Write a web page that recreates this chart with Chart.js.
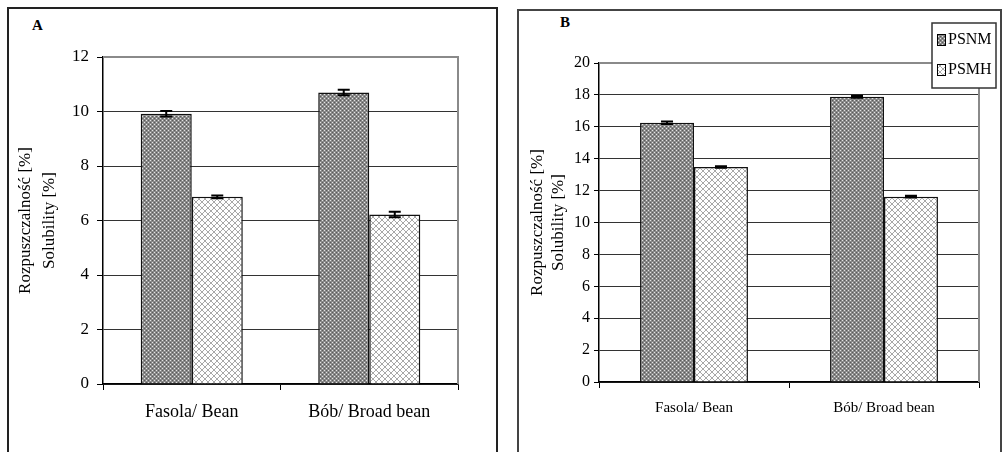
<!DOCTYPE html>
<html>
<head>
<meta charset="utf-8">
<script src="https://cdn.jsdelivr.net/npm/chart.js@4.4.0/dist/chart.umd.min.js"></script>
<style>
body { margin: 0; background: #fff; width: 1007px; height: 452px; overflow: hidden; position: relative; font-family: "Liberation Serif", serif; }
.panel { position: absolute; border: 2px solid #222; box-sizing: border-box; }
.tag { position: absolute; font-weight: bold; font-size: 15px; color: #000; }
canvas { position: absolute; }
</style>
</head>
<body>
<div class="panel" style="left:7px; top:7px; width:491px; height:470px;"></div>
<div class="panel" style="left:517px; top:9px; width:485px; height:470px; border-color:#444;"></div>
<span class="tag" style="left:32px; top:17px;">A</span>
<span class="tag" style="left:560px; top:14px;">B</span>
<canvas id="chartA" width="485" height="442" style="left:10px; top:10px;"></canvas>
<canvas id="chartB" width="479" height="440" style="left:520px; top:12px;"></canvas>

<script>
// Dane: rozpuszczalność [%]
const categories = ['Fasola/ Bean', 'Bób/ Broad bean'];
const seriesNames = ['PSNM', 'PSMH'];
const yTitle = ['Rozpuszczalność [%]', 'Solubility [%]'];

// Panel A
const psnmA = [9.92, 10.7];
const psmhA = [6.87, 6.22];
const psnmErrA = [0.1, 0.1];
const psmhErrA = [0.05, 0.1];
const yTicksA = { min: 0, max: 12, step: 2 };

// Panel B
const psnmB = [16.25, 17.88];
const psmhB = [13.48, 11.62];
const psnmErrB = [0.08, 0.06];
const psmhErrB = [0.05, 0.06];
const yTicksB = { min: 0, max: 20, step: 2 };

const serif = '"Liberation Serif", "Times New Roman", serif';
Chart.defaults.font.family = serif;

// wzory wypełnienia słupków
function makePattern(kind) {
    const c = document.createElement('canvas');
    const g = c.getContext('2d');
    if (kind === 'dark') {
        c.width = 4; c.height = 4;
        g.fillStyle = '#8a8a8a'; g.fillRect(0, 0, 4, 4);
        g.fillStyle = '#5a5a5a'; g.fillRect(0, 0, 1, 1); g.fillRect(2, 2, 1, 1);
        g.fillStyle = '#e4e4e4'; g.fillRect(2, 0, 1, 1); g.fillRect(0, 2, 1, 1);
    } else {
        c.width = 6; c.height = 6;
        g.fillStyle = '#ffffff'; g.fillRect(0, 0, 6, 6);
        g.fillStyle = '#a8a8a8';
        for (let i = 0; i < 6; i++) {
            g.fillRect(i, i, 1, 1);
            g.fillRect(5 - i, i, 1, 1);
        }
    }
    return g.createPattern(c, 'repeat');
}
const darkFill = makePattern('dark');
const lightFill = makePattern('light');

// słupki błędów
const errorBars = {
    id: 'errorBars',
    afterDatasetsDraw(chart) {
        const ctx = chart.ctx;
        const y = chart.scales.y;
        chart.data.datasets.forEach((ds, i) => {
            const meta = chart.getDatasetMeta(i);
            meta.data.forEach((bar, j) => {
                const top = y.getPixelForValue(ds.data[j] + ds.errors[j]);
                const bot = y.getPixelForValue(ds.data[j] - ds.errors[j]);
                ctx.save();
                ctx.strokeStyle = '#000';
                ctx.lineWidth = 2;
                ctx.beginPath();
                ctx.moveTo(bar.x, top); ctx.lineTo(bar.x, bot);
                ctx.moveTo(bar.x - 6, top); ctx.lineTo(bar.x + 6, top);
                ctx.moveTo(bar.x - 6, bot); ctx.lineTo(bar.x + 6, bot);
                ctx.stroke();
                ctx.restore();
            });
        });
    }
};

// szara ramka obszaru wykresu (góra i prawa strona)
const plotFrame = {
    id: 'plotFrame',
    beforeDatasetsDraw(chart) {
        const { left, right, top, bottom } = chart.chartArea;
        const ctx = chart.ctx;
        ctx.save();
        ctx.strokeStyle = '#8a8a8a';
        ctx.lineWidth = 2;
        ctx.beginPath();
        ctx.moveTo(left, top); ctx.lineTo(right, top); ctx.lineTo(right, bottom);
        ctx.stroke();
        ctx.restore();
    }
};

// legenda w ramce (tylko panel B)
const boxLegend = {
    id: 'boxLegend',
    afterDraw(chart, args, opts) {
        if (!opts.show) return;
        const ctx = chart.ctx;
        ctx.save();
        ctx.fillStyle = '#fff';
        ctx.fillRect(opts.x, opts.y, opts.w, opts.h);
        ctx.strokeStyle = '#333';
        ctx.lineWidth = 1.5;
        ctx.strokeRect(opts.x, opts.y, opts.w, opts.h);
        chart.data.datasets.forEach((ds, i) => {
            const sy = opts.y + 11 + i * 30;
            ctx.fillStyle = ds.backgroundColor;
            ctx.fillRect(opts.x + 5, sy, 9, 12);
            ctx.strokeStyle = '#000';
            ctx.lineWidth = 1;
            ctx.strokeRect(opts.x + 5.5, sy + 0.5, 8, 11);
            ctx.fillStyle = '#000';
            ctx.font = '16px ' + serif;
            ctx.textBaseline = 'middle';
            ctx.fillText(ds.label, opts.x + 16, sy + 6);
        });
        ctx.restore();
    }
};

function buildChart(id, psnm, psmh, psnmErr, psmhErr, yr, cfg) {
    const ctx = document.getElementById(id).getContext('2d');
    return new Chart(ctx, {
        type: 'bar',
        data: {
            labels: categories,
            datasets: [
                { label: seriesNames[0], data: psnm, errors: psnmErr, backgroundColor: darkFill, borderColor: '#111', borderWidth: 1.5 },
                { label: seriesNames[1], data: psmh, errors: psmhErr, backgroundColor: lightFill, borderColor: '#111', borderWidth: 1.5 }
            ]
        },
        options: {
            responsive: false,
            animation: false,
            datasets: { bar: { barPercentage: 1, categoryPercentage: cfg.catPct } },
            layout: { padding: { top: cfg.padTop, right: cfg.padRight, left: 0, bottom: 0 } },
            plugins: {
                legend: { display: false },
                tooltip: { enabled: false },
                boxLegend: cfg.legend
            },
            scales: {
                x: {
                    grid: { drawOnChartArea: false, drawTicks: true, tickLength: 6, color: '#000', offset: true },
                    border: { color: '#000', width: 1.5 },
                    ticks: { font: { family: serif, size: cfg.xFont }, color: '#000', padding: 11 },
                    afterFit(s) { s.height = cfg.xHeight; }
                },
                y: {
                    min: yr.min,
                    max: yr.max,
                    ticks: { stepSize: yr.step, font: { family: serif, size: cfg.yFont }, color: '#000', padding: cfg.yPad },
                    grid: { color: '#333', tickColor: '#000', tickLength: cfg.yTick, lineWidth: 1 },
                    border: { color: '#000', width: 1.5 },
                    title: {
                        display: true,
                        text: yTitle,
                        color: '#000',
                        font: { family: serif, size: 17, lineHeight: cfg.titleLH },
                        padding: { top: cfg.titlePad, bottom: 0 }
                    },
                    afterFit(s) { s.width = cfg.yWidth; }
                }
            }
        },
        plugins: [plotFrame, errorBars, boxLegend]
    });
}

buildChart('chartA', psnmA, psmhA, psnmErrA, psmhErrA, yTicksA, {
    catPct: 0.575, padTop: 47, padRight: 37, xHeight: 68, yWidth: 93,
    xFont: 18, yFont: 17, yPad: 8, yTick: 6, titleLH: 1.41, titlePad: 4,
    legend: { show: false }
});

buildChart('chartB', psnmB, psmhB, psnmErrB, psmhErrB, yTicksB, {
    catPct: 0.568, padTop: 51, padRight: 20, xHeight: 70, yWidth: 79,
    xFont: 15, yFont: 16, yPad: 4, yTick: 5, titleLH: 1.24, titlePad: 6.5,
    legend: { show: true, x: 412, y: 11, w: 64, h: 65 }
});
</script>
</body>
</html>
